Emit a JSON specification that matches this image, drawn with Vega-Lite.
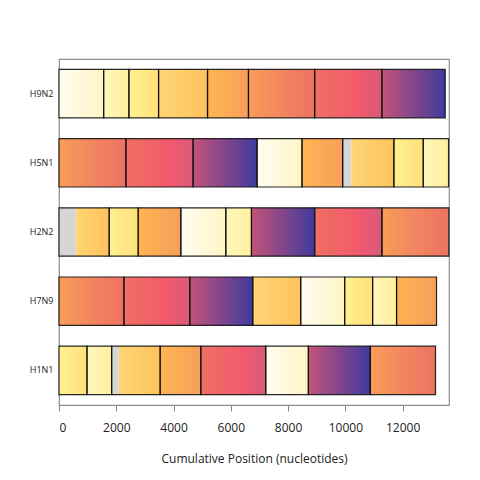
{
  "$schema": "https://vega.github.io/schema/vega-lite/v6.json",
  "autosize": {"type": "none"},
  "padding": {"left": 59, "top": 59, "right": 31, "bottom": 75},
  "width": 390,
  "height": 346,
  "config": {
    "font": "Open Sans",
    "view": {"stroke": "#8c8c8c", "strokeWidth": 1.2},
    "axis": {"grid": false}
  },
  "datasets": {
    "segs": [
      {"g": "H9N2", "seg": "A", "start": 0, "aligned": 0, "end": 1559},
      {"g": "H9N2", "seg": "B", "start": 1559, "aligned": 1559, "end": 2442},
      {"g": "H9N2", "seg": "C", "start": 2442, "aligned": 2442, "end": 3477},
      {"g": "H9N2", "seg": "D", "start": 3477, "aligned": 3477, "end": 5187},
      {"g": "H9N2", "seg": "E", "start": 5187, "aligned": 5187, "end": 6617},
      {"g": "H9N2", "seg": "F", "start": 6617, "aligned": 6617, "end": 8929},
      {"g": "H9N2", "seg": "G", "start": 8929, "aligned": 8929, "end": 11277},
      {"g": "H9N2", "seg": "H", "start": 11277, "aligned": 11277, "end": 13488},

      {"g": "H5N1", "seg": "F", "start": 0, "aligned": 0, "end": 2337},
      {"g": "H5N1", "seg": "G", "start": 2337, "aligned": 2337, "end": 4684},
      {"g": "H5N1", "seg": "H", "start": 4684, "aligned": 4684, "end": 6917},
      {"g": "H5N1", "seg": "A", "start": 6917, "aligned": 6917, "end": 8486},
      {"g": "H5N1", "seg": "E", "start": 8486, "aligned": 8486, "end": 9906},
      {"g": "H5N1", "seg": "D", "start": 9906, "aligned": 10209, "end": 11695},
      {"g": "H5N1", "seg": "C", "start": 11695, "aligned": 11695, "end": 12721},
      {"g": "H5N1", "seg": "B", "start": 12721, "aligned": 12721, "end": 13604},

      {"g": "H2N2", "seg": "D", "start": 0, "aligned": 582, "end": 1754},
      {"g": "H2N2", "seg": "C", "start": 1754, "aligned": 1754, "end": 2766},
      {"g": "H2N2", "seg": "E", "start": 2766, "aligned": 2766, "end": 4255},
      {"g": "H2N2", "seg": "A", "start": 4255, "aligned": 4255, "end": 5825},
      {"g": "H2N2", "seg": "B", "start": 5825, "aligned": 5825, "end": 6721},
      {"g": "H2N2", "seg": "H", "start": 6721, "aligned": 6721, "end": 8929},
      {"g": "H2N2", "seg": "G", "start": 8929, "aligned": 8929, "end": 11277},
      {"g": "H2N2", "seg": "F", "start": 11277, "aligned": 11277, "end": 13614},

      {"g": "H7N9", "seg": "F", "start": 0, "aligned": 0, "end": 2267},
      {"g": "H7N9", "seg": "G", "start": 2267, "aligned": 2267, "end": 4569},
      {"g": "H7N9", "seg": "H", "start": 4569, "aligned": 4569, "end": 6767},
      {"g": "H7N9", "seg": "D", "start": 6767, "aligned": 6767, "end": 8441},
      {"g": "H7N9", "seg": "A", "start": 8441, "aligned": 8441, "end": 9976},
      {"g": "H7N9", "seg": "C", "start": 9976, "aligned": 9976, "end": 10952},
      {"g": "H7N9", "seg": "B", "start": 10952, "aligned": 10952, "end": 11789},
      {"g": "H7N9", "seg": "E", "start": 11789, "aligned": 11789, "end": 13185},

      {"g": "H1N1", "seg": "C", "start": 0, "aligned": 0, "end": 977},
      {"g": "H1N1", "seg": "B", "start": 977, "aligned": 977, "end": 1838},
      {"g": "H1N1", "seg": "D", "start": 1838, "aligned": 2093, "end": 3533},
      {"g": "H1N1", "seg": "E", "start": 3533, "aligned": 3533, "end": 4953},
      {"g": "H1N1", "seg": "G", "start": 4953, "aligned": 4953, "end": 7220},
      {"g": "H1N1", "seg": "A", "start": 7220, "aligned": 7220, "end": 8709},
      {"g": "H1N1", "seg": "H", "start": 8709, "aligned": 8709, "end": 10872},
      {"g": "H1N1", "seg": "F", "start": 10872, "aligned": 10872, "end": 13149}
    ]
  },
  "data": {"name": "segs"},
  "encoding": {
    "y": {
      "field": "g", "type": "nominal",
      "sort": ["H9N2", "H5N1", "H2N2", "H7N9", "H1N1"],
      "scale": {"paddingInner": 0.3, "paddingOuter": 0.15},
      "axis": {"title": null, "ticks": false, "domain": false, "labelFontSize": 9, "labelColor": "#222222", "labelPadding": 6}
    }
  },
  "layer": [
    {
      "transform": [{"filter": "datum.aligned > datum.start"}],
      "mark": {"type": "rect", "fill": "#d6d6d6"},
      "encoding": {
        "x": {"field": "start", "type": "quantitative", "scale": {"domain": [0, 13620], "nice": false},
              "axis": {"title": "Cumulative Position (nucleotides)", "titleFontSize": 12, "titleFontWeight": "normal", "titleColor": "#222", "titlePadding": 20, "labelFontSize": 12, "labelColor": "#222", "labelPadding": 11, "tickColor": "#888", "tickSize": 6, "domain": false, "values": [0, 2000, 4000, 6000, 8000, 10000, 12000], "format": "d"}},
        "x2": {"field": "aligned"}
      }
    },
    {
      "transform": [{"filter": "datum.seg == 'A'"}],
      "mark": {"type": "rect", "fill": {"gradient": "linear", "x1": 0, "y1": 0, "x2": 1, "y2": 0, "stops": [{"offset": 0, "color": "#fffcf0"}, {"offset": 1, "color": "#fff5c4"}]}},
      "encoding": {"x": {"field": "aligned", "type": "quantitative"}, "x2": {"field": "end"}}
    },
    {
      "transform": [{"filter": "datum.seg == 'B'"}],
      "mark": {"type": "rect", "fill": {"gradient": "linear", "x1": 0, "y1": 0, "x2": 1, "y2": 0, "stops": [{"offset": 0, "color": "#fff7bd"}, {"offset": 1, "color": "#fff09c"}]}},
      "encoding": {"x": {"field": "aligned", "type": "quantitative"}, "x2": {"field": "end"}}
    },
    {
      "transform": [{"filter": "datum.seg == 'C'"}],
      "mark": {"type": "rect", "fill": {"gradient": "linear", "x1": 0, "y1": 0, "x2": 1, "y2": 0, "stops": [{"offset": 0, "color": "#fff190"}, {"offset": 1, "color": "#ffe07a"}]}},
      "encoding": {"x": {"field": "aligned", "type": "quantitative"}, "x2": {"field": "end"}}
    },
    {
      "transform": [{"filter": "datum.seg == 'D'"}],
      "mark": {"type": "rect", "fill": {"gradient": "linear", "x1": 0, "y1": 0, "x2": 1, "y2": 0, "stops": [{"offset": 0, "color": "#ffd676"}, {"offset": 1, "color": "#ffc25c"}]}},
      "encoding": {"x": {"field": "aligned", "type": "quantitative"}, "x2": {"field": "end"}}
    },
    {
      "transform": [{"filter": "datum.seg == 'E'"}],
      "mark": {"type": "rect", "fill": {"gradient": "linear", "x1": 0, "y1": 0, "x2": 1, "y2": 0, "stops": [{"offset": 0, "color": "#ffb552"}, {"offset": 1, "color": "#f79f5a"}]}},
      "encoding": {"x": {"field": "aligned", "type": "quantitative"}, "x2": {"field": "end"}}
    },
    {
      "transform": [{"filter": "datum.seg == 'F'"}],
      "mark": {"type": "rect", "fill": {"gradient": "linear", "x1": 0, "y1": 0, "x2": 1, "y2": 0, "stops": [{"offset": 0, "color": "#f99d58"}, {"offset": 0.5, "color": "#f28660"}, {"offset": 1, "color": "#ee7262"}]}},
      "encoding": {"x": {"field": "aligned", "type": "quantitative"}, "x2": {"field": "end"}}
    },
    {
      "transform": [{"filter": "datum.seg == 'G'"}],
      "mark": {"type": "rect", "fill": {"gradient": "linear", "x1": 0, "y1": 0, "x2": 1, "y2": 0, "stops": [{"offset": 0, "color": "#ef6f63"}, {"offset": 0.65, "color": "#f25a6d"}, {"offset": 1, "color": "#d65a79"}]}},
      "encoding": {"x": {"field": "aligned", "type": "quantitative"}, "x2": {"field": "end"}}
    },
    {
      "transform": [{"filter": "datum.seg == 'H'"}],
      "mark": {"type": "rect", "fill": {"gradient": "linear", "x1": 0, "y1": 0, "x2": 1, "y2": 0, "stops": [{"offset": 0, "color": "#c4537a"}, {"offset": 0.5, "color": "#82468a"}, {"offset": 0.9, "color": "#4d3d9b"}, {"offset": 1, "color": "#3c3a9f"}]}},
      "encoding": {"x": {"field": "aligned", "type": "quantitative"}, "x2": {"field": "end"}}
    },
    {
      "mark": {"type": "rect", "fillOpacity": 0, "fill": "#ffffff", "stroke": "#111111", "strokeWidth": 1.2, "strokeOpacity": 0.9},
      "encoding": {"x": {"field": "start", "type": "quantitative"}, "x2": {"field": "end"}}
    }
  ]
}
